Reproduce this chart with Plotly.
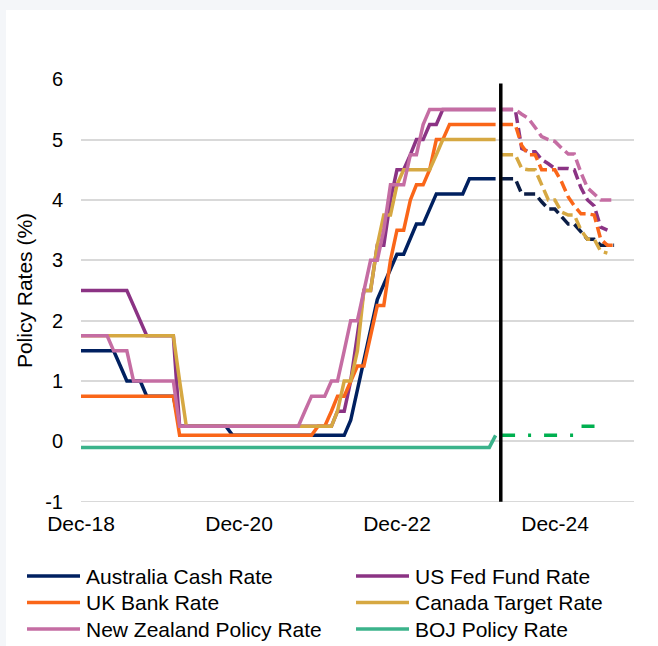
import pandas as pd
import plotly.graph_objects as go

# ---------------- data ----------------
hist_dates = pd.date_range("2018-12-01", "2024-03-01", freq="MS")
fc_dates = pd.date_range("2024-03-31", "2025-08-31", freq="ME")

aus = [1.5,
       1.5, 1.5, 1.5, 1.5, 1.5, 1.25, 1.0, 1.0, 1.0, 0.75, 0.75, 0.75,
       0.75, 0.75, 0.25, 0.25, 0.25, 0.25, 0.25, 0.25, 0.25, 0.25, 0.1, 0.1,
       0.1, 0.1, 0.1, 0.1, 0.1, 0.1, 0.1, 0.1, 0.1, 0.1, 0.1, 0.1,
       0.1, 0.1, 0.1, 0.1, 0.35, 0.85, 1.35, 1.85, 2.35, 2.6, 2.85, 3.1,
       3.1, 3.35, 3.6, 3.6, 3.85, 4.1, 4.1, 4.1, 4.1, 4.1, 4.35, 4.35,
       4.35, 4.35, 4.35]
us = [2.5,
      2.5, 2.5, 2.5, 2.5, 2.5, 2.5, 2.5, 2.25, 2.0, 1.75, 1.75, 1.75,
      1.75, 1.75, 0.25, 0.25, 0.25, 0.25, 0.25, 0.25, 0.25, 0.25, 0.25, 0.25,
      0.25, 0.25, 0.25, 0.25, 0.25, 0.25, 0.25, 0.25, 0.25, 0.25, 0.25, 0.25,
      0.25, 0.25, 0.5, 0.5, 1.0, 1.75, 2.5, 2.5, 3.25, 3.25, 4.0, 4.5,
      4.5, 4.75, 5.0, 5.0, 5.25, 5.25, 5.5, 5.5, 5.5, 5.5, 5.5, 5.5,
      5.5, 5.5, 5.5]
uk = [0.75,
      0.75, 0.75, 0.75, 0.75, 0.75, 0.75, 0.75, 0.75, 0.75, 0.75, 0.75, 0.75,
      0.75, 0.75, 0.1, 0.1, 0.1, 0.1, 0.1, 0.1, 0.1, 0.1, 0.1, 0.1,
      0.1, 0.1, 0.1, 0.1, 0.1, 0.1, 0.1, 0.1, 0.1, 0.1, 0.1, 0.25,
      0.25, 0.5, 0.75, 0.75, 1.0, 1.25, 1.25, 1.75, 2.25, 2.25, 3.0, 3.5,
      3.5, 4.0, 4.25, 4.25, 4.5, 5.0, 5.0, 5.25, 5.25, 5.25, 5.25, 5.25,
      5.25, 5.25, 5.25]
can = [1.75,
       1.75, 1.75, 1.75, 1.75, 1.75, 1.75, 1.75, 1.75, 1.75, 1.75, 1.75, 1.75,
       1.75, 1.75, 1.0, 0.25, 0.25, 0.25, 0.25, 0.25, 0.25, 0.25, 0.25, 0.25,
       0.25, 0.25, 0.25, 0.25, 0.25, 0.25, 0.25, 0.25, 0.25, 0.25, 0.25, 0.25,
       0.25, 0.25, 0.5, 1.0, 1.0, 1.5, 2.5, 2.5, 3.25, 3.75, 3.75, 4.25,
       4.5, 4.5, 4.5, 4.5, 4.5, 4.75, 5.0, 5.0, 5.0, 5.0, 5.0, 5.0,
       5.0, 5.0, 5.0]
nz = [1.75,
      1.75, 1.75, 1.75, 1.75, 1.5, 1.5, 1.5, 1.0, 1.0, 1.0, 1.0, 1.0,
      1.0, 1.0, 0.25, 0.25, 0.25, 0.25, 0.25, 0.25, 0.25, 0.25, 0.25, 0.25,
      0.25, 0.25, 0.25, 0.25, 0.25, 0.25, 0.25, 0.25, 0.25, 0.5, 0.75, 0.75,
      0.75, 1.0, 1.0, 1.5, 2.0, 2.0, 2.5, 3.0, 3.0, 3.5, 4.25, 4.25,
      4.25, 4.75, 4.75, 5.25, 5.5, 5.5, 5.5, 5.5, 5.5, 5.5, 5.5, 5.5,
      5.5, 5.5, 5.5]
boj = [-0.1,
       -0.1, -0.1, -0.1, -0.1, -0.1, -0.1, -0.1, -0.1, -0.1, -0.1, -0.1, -0.1,
       -0.1, -0.1, -0.1, -0.1, -0.1, -0.1, -0.1, -0.1, -0.1, -0.1, -0.1, -0.1,
       -0.1, -0.1, -0.1, -0.1, -0.1, -0.1, -0.1, -0.1, -0.1, -0.1, -0.1, -0.1,
       -0.1, -0.1, -0.1, -0.1, -0.1, -0.1, -0.1, -0.1, -0.1, -0.1, -0.1, -0.1,
       -0.1, -0.1, -0.1, -0.1, -0.1, -0.1, -0.1, -0.1, -0.1, -0.1, -0.1, -0.1,
       -0.1, -0.1, 0.1]

# forecasts (month-end, Mar-24 onward)
aus_f = [4.35, 4.35, 4.35, 4.1, 4.1, 4.1, 3.97, 3.85, 3.85, 3.72, 3.6, 3.6,
         3.47, 3.35, 3.35, 3.25, 3.25, 3.25]
us_f = [5.5, 5.5, 5.5, 4.85, 4.8, 4.8, 4.67, 4.6, 4.52, 4.52, 4.52, 4.5,
        4.2, 4.0, 3.9, 3.55, 3.5]
uk_f = [5.25, 5.25, 5.25, 4.9, 4.75, 4.75, 4.5, 4.5, 4.5, 4.3, 4.05, 3.9,
        3.77, 3.77, 3.75, 3.35, 3.25, 3.25]
can_f = [4.75, 4.75, 4.75, 4.52, 4.5, 4.5, 4.25, 4.0, 4.0, 3.8, 3.75, 3.75,
         3.5, 3.35, 3.35, 3.15, 3.12]
nz_f = [5.5, 5.5, 5.5, 5.42, 5.35, 5.2, 5.05, 5.0, 4.97, 4.86, 4.76, 4.76,
        4.45, 4.2, 4.1, 4.0, 4.0, 4.0]
boj_f = [0.1, 0.1, 0.1, 0.1, 0.1, 0.1, 0.1, 0.1, 0.1, 0.1, 0.1, 0.1,
         0.25, 0.25, 0.25, 0.25]

names = ["Australia Cash Rate", "US Fed Fund Rate", "UK Bank Rate",
         "Canada Target Rate", "New Zealand Policy Rate", "BOJ Policy Rate"]
tick_vals = ["2018-12-01", "2020-12-01", "2022-12-01", "2024-12-01"]
tick_text = ["Dec-18", "Dec-20", "Dec-22", "Dec-24"]
y_tick_vals = [-1, 0, 1, 2, 3, 4, 5, 6]
y_tick_text = ["-1", "0", "1", "2", "3", "4", "5", "6"]
forecast_start = "2024-03-25"

# ---------------- style ----------------
colors = ["#002060", "#8B3384", "#FA6619", "#D6A842", "#C56DA3", "#3BB38B"]
fc_colors = ["#0B1D45", "#8B3384", "#FA6619", "#D6A842", "#C56DA3", "#00B050"]
FONT = "Liberation Sans, Arial, sans-serif"
LW = 3.5

fig = go.Figure()
hist = [aus, us, uk, can, nz, boj]
fc = [aus_f, us_f, uk_f, can_f, nz_f, boj_f]

for name, vals, col in zip(names, hist, colors):
    fig.add_trace(go.Scatter(x=hist_dates[:len(vals)], y=vals, mode="lines",
                             name=name, showlegend=False,
                             line=dict(color=col, width=LW)))
for name, vals, col in zip(names, fc, fc_colors):
    dash = "13px,13px,3px,13px" if name.startswith("BOJ") else "11px,5px"
    fig.add_trace(go.Scatter(x=fc_dates[:len(vals)], y=vals, mode="lines",
                             name=name + " forecast", showlegend=False,
                             line=dict(color=col, width=LW, dash=dash)))

# plot area: x 81..634 px, y 79..502 px
def px_x(p):
    return (p - 81) / 553.0

def px_y(q):
    return (502 - q) / 423.0

shapes = [
    dict(type="line", xref="paper", yref="y", x0=0, x1=1, y0=-1, y1=-1,
         line=dict(color="#D9D9D9", width=1.5), layer="below"),
    dict(type="line", xref="x", yref="y", x0=forecast_start, x1=forecast_start,
         y0=-1, y1=5.93, line=dict(color="black", width=3.5), layer="above"),
    dict(type="rect", xref="paper", yref="paper", x0=px_x(0), x1=px_x(6),
         y0=px_y(646), y1=px_y(0), fillcolor="#F4F6F9", line=dict(width=0)),
    dict(type="rect", xref="paper", yref="paper", x0=px_x(0), x1=px_x(658),
         y0=px_y(10), y1=px_y(0), fillcolor="#F4F6F9", line=dict(width=0)),
]

annotations = [dict(text="Forecasts", xref="x", yref="y", x="2025-01-25",
                    y=6.45, showarrow=False,
                    font=dict(family=FONT, size=20, color="black"))]

# legend (two columns, three rows) built below the plot
for i, (name, col) in enumerate(zip(names, colors)):
    c, r = i % 2, i // 2
    x0 = 27 + c * 329
    yy = 576 + r * 26.5
    shapes.append(dict(type="line", xref="paper", yref="paper",
                       x0=px_x(x0), x1=px_x(x0 + 53), y0=px_y(yy), y1=px_y(yy),
                       line=dict(color=col, width=3.5)))
    annotations.append(dict(text=name, xref="paper", yref="paper",
                            x=px_x(x0 + 57), y=px_y(yy), xanchor="left",
                            yanchor="middle", showarrow=False,
                            font=dict(family=FONT, size=21, color="black")))

fig.update_layout(
    width=658, height=646,
    margin=dict(l=81, r=24, t=79, b=144, autoexpand=False),
    paper_bgcolor="white", plot_bgcolor="white",
    font=dict(family=FONT, color="black", size=20),
    showlegend=False,
    shapes=shapes,
    annotations=annotations,
    xaxis=dict(type="date", range=["2018-12-01", "2025-12-01"],
               tickvals=tick_vals, ticktext=tick_text, showgrid=False,
               zeroline=False, showline=False, ticks="",
               ticklabelstandoff=7,
               tickfont=dict(family=FONT, size=21, color="black")),
    yaxis=dict(range=[-1.004, 6.004], tickvals=y_tick_vals,
               ticktext=y_tick_text, showgrid=True,
               gridcolor="#D9D9D9", gridwidth=1.5, zeroline=False,
               showline=False, ticks="", ticklabelstandoff=17,
               tickfont=dict(family=FONT, size=20, color="black"),
               title=dict(text="Policy Rates (%)", standoff=6,
                          font=dict(family=FONT, size=21, color="black"))),
)

fig.write_html("out.html")
